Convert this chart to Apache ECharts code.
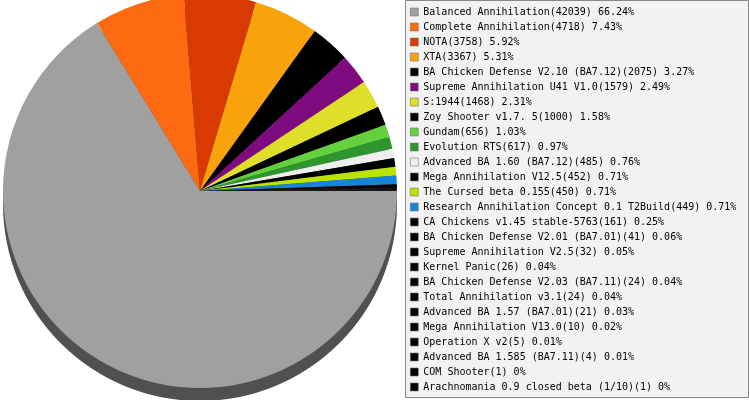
<!DOCTYPE html>
<html><head><meta charset="utf-8">
<script src="https://cdn.jsdelivr.net/npm/echarts@6/dist/echarts.min.js"></script>
<style>html,body{margin:0;padding:0;background:#fff}#c{width:749px;height:400px}</style>
</head><body><div id="c"></div>
<script>
var names = ["Balanced Annihilation","Complete Annihilation","NOTA","XTA","BA Chicken Defense V2.10 (BA7.12)","Supreme Annihilation U41 V1.0","S:1944","Zoy Shooter v1.7. 5","Gundam","Evolution RTS","Advanced BA 1.60 (BA7.12)","Mega Annihilation V12.5","The Cursed beta 0.155","Research Annihilation Concept 0.1 T2Build","CA Chickens v1.45 stable-5763","BA Chicken Defense V2.01 (BA7.01)","Supreme Annihilation V2.5","Kernel Panic","BA Chicken Defense V2.03 (BA7.11)","Total Annihilation v3.1","Advanced BA 1.57 (BA7.01)","Mega Annihilation V13.0","Operation X v2","Advanced BA 1.585 (BA7.11)","COM Shooter","Arachnomania 0.9 closed beta (1/10)"];
var values = [42039,4718,3758,3367,2075,1579,1468,1000,656,617,485,452,450,449,161,41,32,26,24,24,21,10,5,4,1,1];
var colors = ["#a0a0a0","#fd6a12","#d83a01","#f9a20c","#000000","#7e0b80","#dfdf2a","#000000","#64d13c","#2e962e","#eeeeee","#000000","#bbe300","#1585d8","#000000","#000000","#000000","#000000","#000000","#000000","#000000","#000000","#000000","#000000","#000000","#000000"];

var total = values.reduce(function(a,b){return a+b;},0);
var valMap = {};
names.forEach(function(n,i){valMap[n]=values[i];});
var data = names.map(function(n,i){return {name:n,value:values[i],itemStyle:{color:colors[i]}};});

var chart = echarts.init(document.getElementById('c'));
chart.setOption({
  animation:false,
  graphic:[{type:'rect',z:-10,shape:{x:405.5,y:0.5,width:343,height:397},style:{fill:'#f2f2f2',stroke:'#888888',lineWidth:1}}],
  legend:{
    orient:'vertical', left:410, top:7, padding:0, itemGap:5,
    itemWidth:8, itemHeight:8, icon:'rect',
    itemStyle:{borderColor:'#777777',borderWidth:0.6},
    textStyle:{fontFamily:'DejaVu Sans Mono',fontSize:10,color:'#000',lineHeight:10},
    data:names,
    selectedMode:false,
    formatter:function(n){
      var v=valMap[n];
      var p=parseFloat((v/total*100).toFixed(2));
      return n+'('+v+') '+p+'%';
    }
  },
  series:[
    {type:'pie',silent:true,z:1,center:[200,204],radius:197,startAngle:0,clockwise:true,
     label:{show:false},labelLine:{show:false},
     data:[{name:'_depth',value:1,itemStyle:{color:'#505050'}}]},
    {type:'pie',silent:true,z:2,center:[200,191],radius:197,startAngle:0,clockwise:true,
     minAngle:0,avoidLabelOverlap:false,
     label:{show:false},labelLine:{show:false},
     itemStyle:{borderWidth:0},
     data:data}
  ]
});
</script></body></html>
